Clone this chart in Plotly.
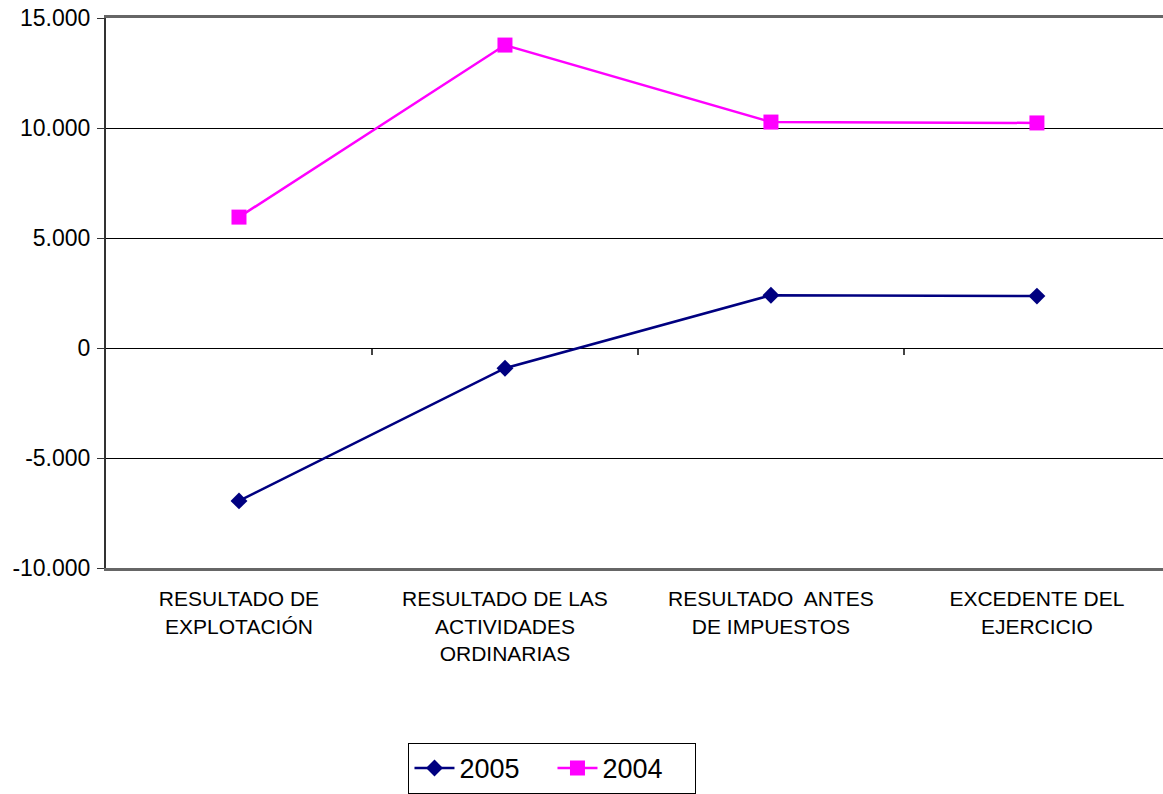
import plotly.graph_objects as go

categories = [
    "RESULTADO DE<br>EXPLOTACIÓN",
    "RESULTADO DE LAS<br>ACTIVIDADES<br>ORDINARIAS",
    "RESULTADO  ANTES<br>DE IMPUESTOS",
    "EXCEDENTE DEL<br>EJERCICIO",
]
values_2005 = [-6950, -920, 2400, 2360]
values_2004 = [5950, 13770, 10270, 10230]
y_tick_vals = [-10000, -5000, 0, 5000, 10000, 15000]
y_tick_text = ["-10.000", "-5.000", "0", "5.000", "10.000", "15.000"]

x_pos = list(range(len(categories)))
between = [i + 0.5 for i in range(len(categories) - 1)]

FONT = "Liberation Sans, Arial, sans-serif"

fig = go.Figure()
fig.add_trace(go.Scatter(
    x=x_pos, y=values_2005, name="2005", mode="lines+markers",
    line=dict(color="#000080", width=2.5),
    marker=dict(symbol="diamond", size=13, color="#000080"),
))
fig.add_trace(go.Scatter(
    x=x_pos, y=values_2004, name="2004", mode="lines+markers",
    line=dict(color="#FF00FF", width=2.5),
    marker=dict(symbol="square", size=15, color="#FF00FF"),
))
# helper trace so the zero-line tick axis is rendered
fig.add_trace(go.Scatter(
    x=between, y=[0] * len(between), xaxis="x2", mode="none",
    showlegend=False, hoverinfo="skip",
))

fig.update_layout(
    width=1163, height=794,
    margin=dict(l=106, r=0, t=18, b=226, autoexpand=False),
    paper_bgcolor="white", plot_bgcolor="white",
    font=dict(family=FONT, color="black"),
    hovermode=False,
    showlegend=True,
    legend=dict(
        orientation="h", x=0.4224, xanchor="center", y=-0.318, yanchor="top",
        bordercolor="black", borderwidth=1, font=dict(size=27, family=FONT),
        itemwidth=40, entrywidth=88, entrywidthmode="pixels", tracegroupgap=0,
    ),
    xaxis=dict(
        range=[-0.5, 3.474], tickmode="array", tickvals=x_pos, ticktext=categories,
        showgrid=False, zeroline=False, ticks="",
        showline=True, linecolor="#666666", linewidth=3, mirror=True,
        tickfont=dict(size=21, family=FONT, color="black"),
        ticklabelstandoff=10,
    ),
    xaxis2=dict(
        overlaying="x", anchor="free", position=0.4, side="bottom",
        range=[-0.5, 3.474], tickmode="array", tickvals=between,
        showticklabels=False, ticks="outside", ticklen=6, tickwidth=2,
        tickcolor="#444444", showgrid=False, zeroline=False, showline=False,
    ),
    yaxis=dict(
        range=[-10000, 15000], tickmode="array", tickvals=y_tick_vals,
        ticktext=y_tick_text, showgrid=True, gridcolor="black", gridwidth=1,
        zeroline=False, showline=True, linecolor="#333333", linewidth=2,
        ticks="outside", ticklen=7, tickcolor="#333333", tickwidth=1,
        tickfont=dict(size=23, family=FONT, color="black"),
        ticklabelstandoff=2,
    ),
)

fig.write_html(
    "out.html",
    config={"displayModeBar": False},
    post_script="document.body.style.margin='0';document.body.style.overflow='hidden';",
)
